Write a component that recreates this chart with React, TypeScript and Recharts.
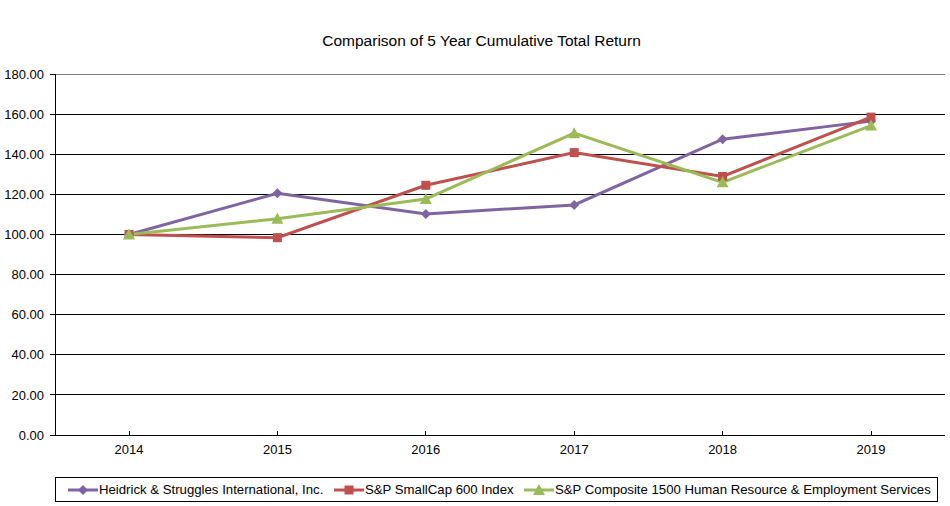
import { CartesianGrid, Line, LineChart, ReferenceLine, XAxis, YAxis } from "recharts";

const years = ["2014", "2015", "2016", "2017", "2018", "2019"];
const heidrick = [100, 120.5, 110.2, 114.7, 147.5, 156.5];
const smallCap = [100, 98.4, 124.5, 140.8, 128.9, 158.5];
const composite = [100, 107.8, 117.7, 150.5, 126.0, 154.3];
const yTicks = [0, 20, 40, 60, 80, 100, 120, 140, 160, 180];

const seriesNames = [
  "Heidrick & Struggles International, Inc.",
  "S&P SmallCap 600 Index",
  "S&P Composite 1500 Human Resource & Employment Services",
];
const COLORS = ["#8064A2", "#C0504D", "#9BBB59"];
const legendLefts = [12, 278, 468];

const data = years.map((year, i) => ({
  year,
  heidrick: heidrick[i],
  smallCap: smallCap[i],
  composite: composite[i],
}));

const FONT = "'Liberation Sans', Arial, sans-serif";

function Diamond(props: any) {
  const { cx, cy, fill } = props;
  const r = 5;
  return <path d={`M${cx},${cy - r}L${cx + r},${cy}L${cx},${cy + r}L${cx - r},${cy}Z`} fill={fill} />;
}

function Square(props: any) {
  const { cx, cy, fill } = props;
  return <rect x={cx - 4.5} y={cy - 4.5} width={9} height={9} fill={fill} />;
}

function Triangle(props: any) {
  const { cx, cy, fill } = props;
  return <path d={`M${cx},${cy - 6}L${cx + 6},${cy + 5}L${cx - 6},${cy + 5}Z`} fill={fill} />;
}

const markers = [Diamond, Square, Triangle];

function YearTick(props: any) {
  const { x, y, payload } = props;
  return (
    <g>
      <line x1={x} y1={y - 4} x2={x} y2={y} stroke="#000" shapeRendering="crispEdges" />
      <text x={x} y={y + 19} textAnchor="middle" fill="#000" fontSize={13} fontFamily={FONT}>
        {payload.value}
      </text>
    </g>
  );
}

function LegendMark({ index }: { index: number }) {
  const M = markers[index];
  return (
    <svg width={30} height={12} style={{ display: "block" }}>
      <line x1={0} y1={6} x2={30} y2={6} stroke={COLORS[index]} strokeWidth={3} />
      <M cx={15} cy={6} fill={COLORS[index]} />
    </svg>
  );
}

export default function App() {
  return (
    <div style={{ position: "absolute", left: 0, top: 0, width: 950, height: 506, background: "#fff", fontFamily: FONT }}>
      <div style={{ position: "absolute", top: 32, left: 0, width: 963, textAlign: "center", fontSize: 15.5, color: "#000" }}>
        Comparison of 5 Year Cumulative Total Return
      </div>
      <LineChart width={950} height={506} data={data} margin={{ top: 74, right: 5, bottom: 41, left: 0 }}>
        <CartesianGrid yAxisId="left" vertical={false} stroke="#000" strokeWidth={1} shapeRendering="crispEdges" />
        <XAxis
          dataKey="year"
          padding={{ left: 74, right: 74 }}
          axisLine={{ stroke: "#000", shapeRendering: "crispEdges" }}
          tickLine={false}
          tickSize={0}
          tickMargin={0}
          height={30}
          tick={<YearTick />}
        />
        <YAxis
          yAxisId="left"
          domain={[0, 180]}
          ticks={yTicks}
          width={55}
          axisLine={{ stroke: "#000", shapeRendering: "crispEdges" }}
          tickLine={{ stroke: "#000", shapeRendering: "crispEdges" }}
          tickSize={5}
          tickMargin={6}
          tickFormatter={(v: number) => v.toFixed(2)}
          tick={{ fill: "#000", fontSize: 13, fontFamily: FONT }}
        />
        <YAxis
          yAxisId="right"
          orientation="right"
          domain={[0, 180]}
          width={0}
          tick={false}
          tickLine={false}
          axisLine={{ stroke: "#808080", shapeRendering: "crispEdges" }}
        />
        <ReferenceLine yAxisId="left" y={180} stroke="#808080" shapeRendering="crispEdges" />
        <Line yAxisId="left" dataKey="heidrick" stroke={COLORS[0]} strokeWidth={3} dot={(p: any) => <Diamond key={p.index} {...p} fill={COLORS[0]} />} isAnimationActive={false} />
        <Line yAxisId="left" dataKey="smallCap" stroke={COLORS[1]} strokeWidth={3} dot={(p: any) => <Square key={p.index} {...p} fill={COLORS[1]} />} isAnimationActive={false} />
        <Line yAxisId="left" dataKey="composite" stroke={COLORS[2]} strokeWidth={3} dot={(p: any) => <Triangle key={p.index} {...p} fill={COLORS[2]} />} isAnimationActive={false} />
      </LineChart>
      <div
        style={{
          position: "absolute",
          left: 55,
          top: 477,
          width: 881,
          height: 23,
          border: "1px solid #000",
          fontSize: 13.2,
          color: "#000",
        }}
      >
        {seriesNames.map((name, i) => (
          <div
            key={name}
            style={{ position: "absolute", left: legendLefts[i], top: 0, height: 23, display: "flex", alignItems: "center" }}
          >
            <LegendMark index={i} />
            <span style={{ marginLeft: 1, whiteSpace: "nowrap" }}>{name}</span>
          </div>
        ))}
      </div>
    </div>
  );
}
